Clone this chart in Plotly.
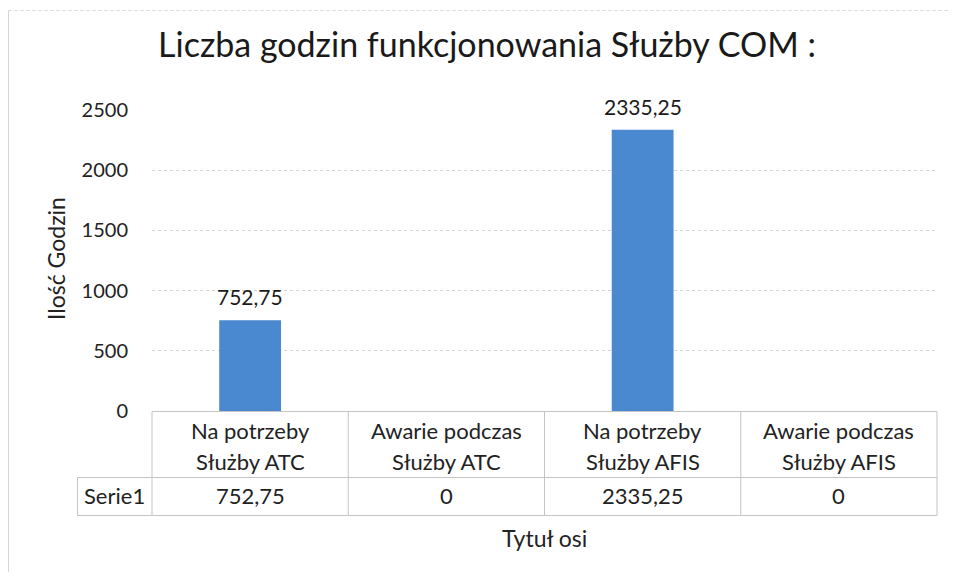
import plotly.graph_objects as go

categories_line1 = ["Na potrzeby", "Awarie podczas", "Na potrzeby", "Awarie podczas"]
categories_line2 = ["Służby ATC", "Służby ATC", "Służby AFIS", "Służby AFIS"]
values = [752.75, 0, 2335.25, 0]
series_name = "Serie1"
y_ticks = [0, 500, 1000, 1500, 2000, 2500]
title = "Liczba godzin funkcjonowania Służby COM :"
y_title = "Ilość Godzin"
x_title = "Tytuł osi"

FONT = "Lato"
OFF = 8  # page body margin
W, H = 940, 564
# plot area in page pixels
PX0, PX1, PY_TOP, PY_BOT = 152, 937, 110, 411
L = PX0 - OFF
R = W - (PX1 - OFF)
T = PY_TOP - OFF
B = H - (PY_BOT - OFF)
PW, PH = PX1 - PX0, PY_BOT - PY_TOP


def fmt(v):
    s = ("%.2f" % v).rstrip("0").rstrip(".")
    return s.replace(".", ",")


def py(px):  # page pixel y -> paper y
    return (PY_BOT - px) / PH


def pxx(px):  # page pixel x -> paper x
    return (px - PX0) / PW


n = len(values)
xs = list(range(n))

fig = go.Figure()
fig.add_trace(go.Bar(
    x=xs, y=values, width=0.315,
    marker=dict(color="#4A89CF", line=dict(width=0)),
    name=series_name, showlegend=False,
))

line_col = "#c4c4c4"
shapes = []
# outer chart border (left and top)
shapes.append(dict(type="line", xref="paper", yref="paper",
                   x0=pxx(8.5), x1=pxx(8.5), y0=py(580), y1=py(10.5),
                   line=dict(color="#d6d6d6", width=1)))
shapes.append(dict(type="line", xref="paper", yref="paper",
                   x0=pxx(8.5), x1=pxx(960), y0=py(10.5), y1=py(10.5),
                   line=dict(color="#d6d6d6", width=1, dash="dot")))
# data table
y_top, y_mid, y_bot = py(411.5), py(477.5), py(515.5)
x_left = pxx(77.5)
shapes.append(dict(type="line", xref="paper", yref="paper", x0=0, x1=1, y0=y_top, y1=y_top,
                   line=dict(color=line_col, width=1)))
for yy in (y_mid, y_bot):
    shapes.append(dict(type="line", xref="paper", yref="paper", x0=x_left, x1=1, y0=yy, y1=yy,
                       line=dict(color=line_col, width=1)))
for i in range(n + 1):
    xx = i / n
    shapes.append(dict(type="line", xref="paper", yref="paper", x0=xx, x1=xx, y0=y_bot, y1=y_top,
                       line=dict(color=line_col, width=1)))
shapes.append(dict(type="line", xref="paper", yref="paper", x0=x_left, x1=x_left, y0=y_bot, y1=y_mid,
                   line=dict(color=line_col, width=1)))

ann = []
# data labels above non-zero bars
for i, v in enumerate(values):
    if v != 0:
        ann.append(dict(x=i, xref="x", y=v, yref="y", text=fmt(v), showarrow=False,
                        xanchor="center", yanchor="bottom", yshift=9,
                        font=dict(family=FONT, size=21, color="#1a1a1a")))
tf = dict(family=FONT, size=22, color="#222222")
for i in range(n):
    ann.append(dict(x=i, xref="x", y=py(430), yref="paper", text=categories_line1[i],
                    showarrow=False, font=tf, xanchor="center", yanchor="middle"))
    ann.append(dict(x=i, xref="x", y=py(461), yref="paper", text=categories_line2[i],
                    showarrow=False, font=tf, xanchor="center", yanchor="middle"))
    ann.append(dict(x=i, xref="x", y=py(495), yref="paper", text=fmt(values[i]),
                    showarrow=False, font=tf, xanchor="center", yanchor="middle"))
ann.append(dict(x=pxx(114), xref="paper", y=py(495), yref="paper", text=series_name,
                showarrow=False, font=tf, xanchor="center", yanchor="middle"))
ann.append(dict(x=pxx(544), xref="paper", y=py(538), yref="paper", text=x_title,
                showarrow=False, font=dict(family=FONT, size=23, color="#222222"),
                xanchor="center", yanchor="middle"))
ann.append(dict(x=pxx(56), xref="paper", y=py(259), yref="paper", text=y_title, textangle=-90,
                showarrow=False, font=dict(family=FONT, size=23, color="#222222"),
                xanchor="center", yanchor="middle"))

fig.update_layout(
    width=W, height=H,
    margin=dict(l=L, r=R, t=T, b=B, pad=0),
    paper_bgcolor="white", plot_bgcolor="white",
    title=dict(text=title, x=pxx(487), xref="paper", xanchor="center",
               y=1 - (45 - OFF) / H, yanchor="middle",
               font=dict(family=FONT, size=34, color="#1a1a1a")),
    xaxis=dict(range=[-0.5, n - 0.5], showticklabels=False, showgrid=False, zeroline=False,
               showline=False, ticks=""),
    yaxis=dict(range=[0, 2500], tickvals=y_ticks, showgrid=True, gridcolor="#d4d4d4",
               griddash="dot", zeroline=False, showline=False, ticks="",
               ticklabelstandoff=23,
               tickfont=dict(family=FONT, size=20, color="#222222")),
    shapes=shapes, annotations=ann,
    font=dict(family=FONT),
)

fig.write_html("out.html")
